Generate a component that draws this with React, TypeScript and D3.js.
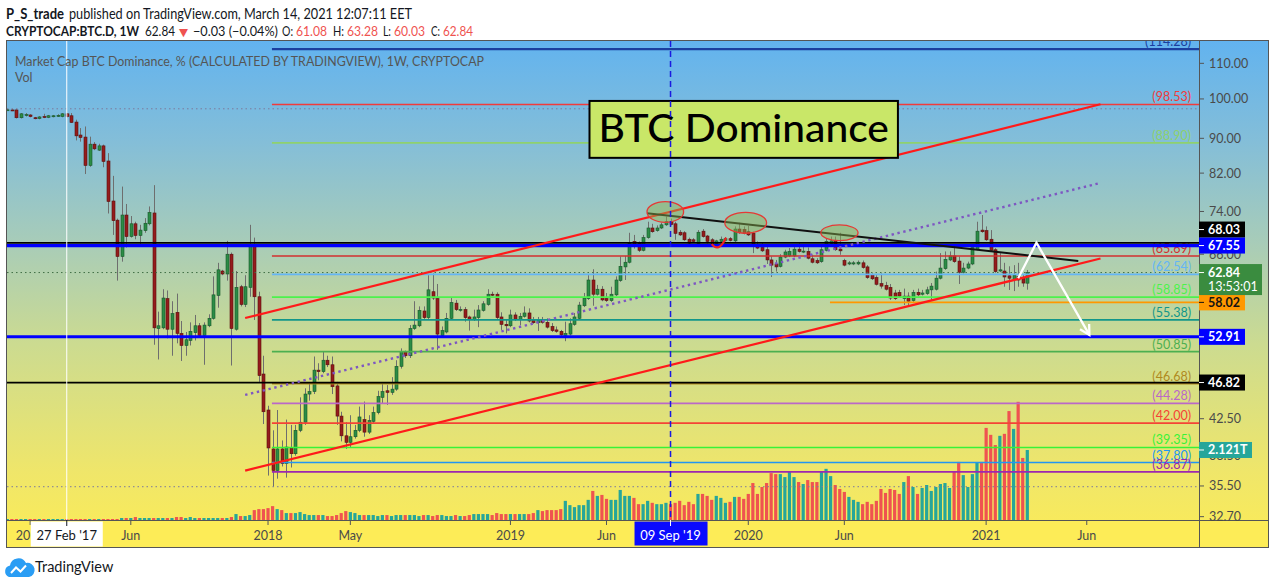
import React from "react";
import * as d3 from "d3";

// ---------- DATA (weekly candles, CRYPTOCAP:BTC.D) ----------
const FIRST_WEEK = "2016-11-28";

const OPEN = [
  97.1, 97.1, 97.1, 95.1, 95.7, 95.8, 95.1, 94.9, 95.4, 95.2,
  95.4, 95.5, 95.4, 96.1, 95.6, 94.0, 90.8, 90.3, 83.7, 88.6,
  87.2, 88.2, 84.7, 76.1, 72.3, 65.6, 73.3, 69.2, 71.6, 69.4,
  70.3, 71.6, 73.7, 54.1, 54.2, 58.6, 54.0, 56.5, 53.4, 51.7,
  52.4, 53.5, 54.5, 53.1, 54.5, 55.6, 59.1, 63.1, 62.6, 66.0,
  54.0, 60.5, 57.7, 60.4, 67.5, 58.9, 47.9, 43.5, 39.2, 37.0,
  39.2, 37.7, 39.3, 38.7, 41.2, 42.1, 45.4, 45.7, 48.4, 48.2,
  49.7, 49.1, 46.4, 42.8, 40.6, 39.9, 40.5, 41.2, 42.4, 41.0,
  42.2, 43.2, 45.0, 45.8, 45.6, 46.0, 48.9, 50.9, 50.3, 54.1,
  54.5, 56.7, 55.7, 59.7, 58.6, 53.1, 53.6, 55.6, 57.9, 56.9,
  56.9, 55.8, 55.4, 55.7, 56.8, 57.7, 59.3, 59.3, 55.8, 54.7,
  54.5, 56.1, 55.4, 55.9, 56.4, 55.3, 54.95, 55.3, 55.0, 54.4,
  53.9, 53.7, 53.1, 53.3, 54.7, 55.6, 57.5, 58.6, 61.6, 59.3,
  60.1, 58.6, 58.3, 59.2, 61.5, 63.8, 64.6, 68.3, 67.9, 66.7,
  69.0, 70.8, 70.3, 70.8, 71.4, 72.0, 71.6, 70.0, 69.9, 68.7,
  68.6, 67.9, 70.2, 69.3, 68.6, 67.9, 68.3, 68.5, 68.8, 68.4,
  70.6, 70.5, 70.1, 69.8, 67.7, 67.2, 66.8, 65.0, 64.3, 63.9,
  65.5, 65.7, 65.7, 66.9, 66.5, 66.5, 65.2, 64.9, 64.7, 66.7,
  67.9, 68.4, 66.9, 64.9, 64.3, 64.3, 64.3, 64.5, 63.8, 62.5,
  62.0, 61.0, 60.7, 60.4, 59.5, 59.6, 58.6, 59.0, 58.3, 59.6,
  59.3, 59.4, 60.0, 60.1, 61.9, 63.5, 65.0, 65.7, 64.8, 62.9,
  63.6, 64.3, 66.9, 70.4, 70.3, 68.7, 66.8, 63.1, 63.1, 62.3,
  61.7, 62.2, 61.9, 61.08,
];

const HIGH = [
  97.4, 97.3, 97.3, 96.3, 96.3, 96.0, 95.3, 95.5, 96.1, 95.8,
  95.8, 96.0, 96.3, 96.3, 96.3, 94.6, 92.5, 92.9, 90.4, 89.1,
  88.7, 88.5, 86.5, 81.4, 72.6, 79.1, 75.5, 73.1, 72.0, 71.4,
  72.7, 75.0, 79.4, 56.6, 60.1, 59.9, 58.2, 59.4, 55.2, 53.6,
  55.0, 56.1, 54.9, 55.0, 56.2, 62.2, 64.5, 63.3, 68.4, 66.3,
  63.1, 60.8, 62.4, 71.4, 69.0, 59.7, 50.3, 44.0, 41.2, 43.5,
  40.1, 42.4, 41.8, 41.8, 45.0, 46.1, 46.7, 50.2, 49.3, 50.9,
  50.3, 50.2, 46.9, 43.3, 42.1, 42.9, 41.8, 43.9, 44.5, 42.9,
  43.9, 45.8, 46.8, 46.5, 47.5, 49.7, 51.3, 51.0, 54.6, 58.2,
  57.4, 57.4, 62.4, 62.7, 60.95, 54.4, 56.4, 58.7, 58.4, 57.4,
  57.3, 56.0, 56.9, 57.6, 58.2, 60.1, 59.7, 59.6, 56.5, 55.35,
  56.9, 56.5, 56.4, 57.4, 57.1, 55.8, 55.8, 55.8, 55.6, 54.9,
  54.4, 53.9, 55.1, 55.6, 56.4, 58.1, 59.5, 62.4, 63.4, 60.8,
  60.6, 59.5, 60.5, 62.2, 65.6, 65.7, 69.9, 69.5, 68.3, 69.5,
  72.0, 71.6, 71.3, 71.8, 73.0, 72.6, 72.0, 70.4, 70.2, 69.0,
  68.9, 70.4, 70.6, 69.5, 68.9, 68.6, 69.2, 69.1, 69.1, 71.1,
  71.8, 71.1, 71.2, 70.1, 68.3, 68.0, 67.4, 65.6, 65.0, 66.0,
  66.8, 67.1, 67.7, 68.0, 67.4, 67.2, 65.9, 65.3, 67.4, 68.8,
  69.2, 69.2, 69.9, 65.2, 64.8, 64.8, 64.9, 64.9, 64.1, 62.7,
  62.4, 62.7, 61.3, 60.95, 60.0, 60.0, 60.2, 59.6, 60.0, 60.2,
  60.0, 60.5, 61.1, 63.0, 66.2, 66.5, 66.5, 67.4, 65.6, 64.5,
  64.7, 67.65, 72.0, 73.3, 71.1, 70.4, 67.1, 66.2, 64.5, 63.9,
  64.1, 64.5, 62.4, 63.28,
];

const LOW = [
  97.0, 96.8, 94.9, 94.9, 95.4, 95.2, 94.7, 94.7, 95.0, 95.0,
  95.2, 95.3, 95.2, 95.2, 93.8, 89.5, 89.2, 81.8, 83.4, 87.2,
  87.0, 83.3, 73.6, 69.5, 61.5, 64.7, 67.2, 69.0, 68.7, 67.3,
  69.9, 71.3, 51.8, 49.8, 54.0, 52.7, 50.3, 52.0, 49.6, 50.3,
  51.7, 52.4, 53.0, 49.1, 54.3, 55.4, 57.2, 62.4, 61.5, 49.0,
  53.8, 57.4, 57.3, 58.9, 55.35, 46.9, 41.9, 36.5, 35.43, 36.2,
  37.4, 36.3, 37.3, 38.5, 41.0, 41.8, 44.6, 45.4, 47.1, 48.0,
  48.8, 45.4, 41.8, 40.0, 39.2, 39.4, 40.3, 41.0, 40.5, 40.8,
  42.0, 43.0, 44.3, 44.1, 45.3, 45.8, 48.6, 50.0, 50.0, 53.9,
  54.3, 55.5, 55.5, 58.4, 51.1, 52.9, 53.4, 55.4, 56.7, 56.6,
  55.1, 53.8, 55.2, 54.3, 56.6, 57.5, 59.0, 55.5, 53.9, 53.4,
  54.3, 55.2, 54.6, 55.7, 55.0, 54.8, 53.75, 54.8, 54.1, 53.6,
  53.5, 53.0, 52.3, 53.1, 54.5, 55.4, 57.3, 58.4, 57.5, 59.1,
  58.2, 58.1, 58.1, 59.0, 61.3, 61.6, 64.4, 67.0, 66.4, 66.5,
  68.8, 69.9, 70.1, 70.6, 71.2, 71.3, 68.6, 69.3, 68.4, 67.8,
  68.1, 67.7, 69.0, 67.9, 67.7, 67.7, 68.1, 68.3, 68.3, 68.2,
  69.7, 69.6, 69.3, 66.2, 66.9, 66.4, 64.3, 62.1, 63.0, 63.7,
  65.3, 65.5, 65.5, 66.3, 66.2, 65.1, 64.4, 64.3, 64.5, 66.5,
  67.7, 66.6, 65.9, 63.9, 64.1, 64.1, 64.1, 63.5, 61.8, 61.6,
  60.7, 60.2, 59.9, 58.4, 58.4, 58.8, 57.6, 57.6, 58.1, 59.0,
  59.1, 59.2, 58.4, 59.9, 61.7, 63.3, 64.8, 64.5, 60.95, 62.7,
  63.4, 64.1, 66.7, 69.9, 68.4, 66.5, 62.8, 62.9, 60.5, 59.98,
  59.8, 60.5, 60.5, 60.03,
];

const CLOSE = [
  97.15, 96.9, 95.1, 96.1, 95.9, 95.4, 94.9, 95.3, 95.2, 95.6,
  95.6, 95.7, 96.1, 95.4, 93.9, 90.6, 90.2, 83.7, 88.6, 87.5,
  88.2, 84.6, 76.0, 72.2, 65.6, 73.3, 69.2, 71.6, 69.4, 70.4,
  71.7, 73.8, 54.2, 54.5, 58.7, 54.0, 56.3, 53.4, 51.7, 52.5,
  53.7, 54.5, 53.1, 54.6, 55.6, 59.2, 63.3, 62.6, 66.0, 54.1,
  60.4, 57.7, 60.5, 67.5, 58.9, 47.7, 43.3, 39.3, 37.0, 39.2,
  37.7, 39.4, 38.7, 41.2, 42.1, 45.4, 45.7, 48.4, 48.2, 49.7,
  49.1, 46.3, 42.8, 40.6, 39.9, 40.5, 41.2, 42.7, 41.0, 42.3,
  43.2, 45.1, 45.7, 45.6, 46.0, 48.9, 50.9, 50.3, 54.1, 54.6,
  56.8, 55.7, 60.0, 58.7, 53.3, 53.8, 55.6, 58.0, 56.9, 56.95,
  55.7, 55.4, 55.8, 56.85, 57.8, 59.3, 59.2, 55.7, 54.7, 54.5,
  56.1, 55.4, 55.9, 56.4, 55.2, 54.95, 55.3, 55.0, 54.3, 53.8,
  53.7, 53.2, 53.4, 54.8, 55.8, 57.6, 58.7, 61.6, 59.3, 60.1,
  58.4, 58.3, 59.3, 61.6, 63.9, 64.6, 68.0, 67.5, 66.7, 69.0,
  70.8, 70.1, 70.8, 71.4, 72.0, 71.5, 69.8, 69.5, 68.6, 68.0,
  68.3, 70.0, 69.2, 68.3, 67.9, 68.4, 68.7, 68.8, 68.5, 70.6,
  69.9, 69.8, 69.5, 67.5, 67.1, 66.6, 65.0, 64.1, 63.8, 65.5,
  66.4, 66.5, 66.9, 66.5, 66.55, 65.3, 64.6, 64.5, 66.8, 68.3,
  68.4, 66.8, 66.6, 64.1, 64.5, 64.5, 64.6, 63.7, 62.0, 61.8,
  60.9, 60.6, 60.1, 58.7, 58.6, 59.0, 59.0, 58.2, 59.6, 59.2,
  59.5, 60.0, 60.6, 61.9, 63.6, 65.1, 65.7, 64.7, 62.9, 63.6,
  64.3, 67.2, 70.2, 70.1, 68.6, 66.7, 63.0, 63.3, 62.1, 61.9,
  62.4, 61.6, 61.1, 62.84,
];

// Volume, in trillions (T)
const VOLUME_T = [
  0.03, 0.03, 0.03, 0.03, 0.03, 0.03, 0.03, 0.03, 0.03, 0.03,
  0.03, 0.03, 0.03, 0.03, 0.03, 0.03, 0.03, 0.03, 0.03, 0.03,
  0.03, 0.03, 0.03, 0.03, 0.03, 0.06, 0.06, 0.06, 0.09, 0.06,
  0.06, 0.06, 0.06, 0.06, 0.06, 0.06, 0.06, 0.09, 0.09, 0.06,
  0.09, 0.06, 0.06, 0.06, 0.06, 0.06, 0.06, 0.06, 0.06, 0.09,
  0.18, 0.12, 0.12, 0.15, 0.30, 0.33, 0.33, 0.36, 0.42, 0.33,
  0.30, 0.21, 0.21, 0.21, 0.24, 0.18, 0.15, 0.15, 0.15, 0.15,
  0.12, 0.12, 0.15, 0.21, 0.27, 0.24, 0.21, 0.15, 0.15, 0.15,
  0.15, 0.12, 0.15, 0.15, 0.12, 0.15, 0.15, 0.15, 0.15, 0.15,
  0.12, 0.15, 0.15, 0.12, 0.15, 0.15, 0.12, 0.12, 0.15, 0.12,
  0.12, 0.15, 0.18, 0.18, 0.18, 0.18, 0.15, 0.21, 0.18, 0.18,
  0.18, 0.18, 0.18, 0.18, 0.18, 0.21, 0.30, 0.27, 0.30, 0.30,
  0.30, 0.33, 0.58, 0.45, 0.39, 0.45, 0.45, 0.61, 0.88, 0.73,
  0.76, 0.64, 0.61, 0.61, 0.91, 0.73, 0.73, 0.67, 0.48, 0.48,
  0.58, 0.52, 0.48, 0.48, 0.52, 0.48, 0.52, 0.58, 0.45, 0.55,
  0.48, 0.79, 0.79, 0.73, 0.61, 0.73, 0.67, 0.52, 0.55, 0.70,
  0.70, 0.64, 0.79, 1.12, 0.79, 1.00, 1.12, 1.42, 1.39, 1.39,
  1.30, 1.48, 1.30, 1.15, 1.09, 1.21, 1.15, 1.15, 1.48, 1.55,
  1.33, 1.06, 0.94, 0.85, 0.70, 0.61, 0.55, 0.48, 0.55, 0.48,
  0.58, 0.94, 0.82, 0.94, 0.91, 0.79, 1.15, 1.33, 1.00, 0.79,
  0.97, 1.06, 0.88, 1.00, 1.09, 1.12, 0.97, 1.48, 1.76, 1.36,
  1.00, 1.39, 1.73, 1.76, 2.79, 2.58, 2.27, 2.55, 2.61, 3.30,
  2.76, 3.58, 1.88, 2.121,
];

const X_TICKS = [
  { date: "2017-01-02", label: "2017" },
  { date: "2017-06-05", label: "Jun" },
  { date: "2018-01-01", label: "2018" },
  { date: "2018-05-07", label: "May" },
  { date: "2019-01-07", label: "2019" },
  { date: "2019-06-03", label: "Jun" },
  { date: "2020-01-06", label: "2020" },
  { date: "2020-06-01", label: "Jun" },
  { date: "2021-01-04", label: "2021" },
  { date: "2021-06-07", label: "Jun" },
];
const CROSSHAIR = { date: "2017-02-27", label: "27 Feb '17" };
const MARKER_DATE = { date: "2019-09-09", label: "09 Sep '19" };

// visible price-axis ticks (66.00 and 38.50 sit partly under label boxes, as in the reference)
const PRICE_TICKS = [110, 100, 90, 82, 74, 66, 42.5, 38.5, 35.5, 32.7];

const LEVELS_START = "2018-01-07";
const LEVELS = [
  { value: 114.28, color: "#1b3f9f" },
  { value: 98.53, color: "#f23a3a" },
  { value: 88.9, color: "#8fd16e" },
  { value: 65.69, color: "#d32f2f" },
  { value: 62.54, color: "#64b5f6" },
  { value: 58.85, color: "#4cf24c" },
  { value: 55.38, color: "#12968a" },
  { value: 50.85, color: "#4caf50" },
  { value: 46.68, color: "#b08a1e" },
  { value: 44.28, color: "#ba68c8" },
  { value: 42.0, color: "#f44336" },
  { value: 39.35, color: "#38f238" },
  { value: 37.8, color: "#2196f3" },
  { value: 36.87, color: "#9c27b0" },
];
const FULL_LINES = [
  { value: 68.03, color: "#000000", w: 1.8 },
  { value: 67.55, color: "#0000ff", w: 3.2 },
  { value: 52.91, color: "#0000ff", w: 3 },
  { value: 46.82, color: "#000000", w: 1.8 },
];
const ORANGE_RAY = { value: 58.02, start: "2020-05-10", color: "#ff9800" };

const CHANNEL_UPPER: [string, number][] = [["2017-11-27", 55.65], ["2021-06-28", 98.6]];
const CHANNEL_LOWER: [string, number][] = [["2017-11-27", 36.99], ["2021-06-28", 65.24]];
const MID_DOTTED: [string, number][] = [["2017-11-27", 45.29], ["2021-06-28", 79.87]];
const BLACK_TREND: [string, number][] = [["2019-08-04", 73.65], ["2021-05-25", 64.82]];
const WHITE_ARROW: [string, number][] = [["2021-02-22", 61.89], ["2021-03-22", 68.08], ["2021-06-11", 53.18]];
const ELLIPSES = [
  { d1: "2019-08-04", d2: "2019-09-29", v1: 75.97, v2: 71.89 },
  { d1: "2019-12-01", d2: "2020-02-03", v1: 73.84, v2: 69.81 },
  { d1: "2020-04-26", d2: "2020-06-22", v1: 71.38, v2: 68.44 },
];
const ARC: [string, number][] = [["2019-11-11", 67.8], ["2019-11-22", 66.2], ["2019-12-03", 69.0]];
const TITLE_BOX = { d1: "2019-05-08", d2: "2020-08-22", v1: 99.47, v2: 85.42, text: "BTC Dominance" };

const AXIS_LABELS = [
  { value: 68.03, bg: "#000000", fg: "#ffffff" },
  { value: 67.55, bg: "#0000ff", fg: "#ffffff" },
  { value: 58.02, bg: "#ff9800", fg: "#131313" },
  { value: 52.91, bg: "#0000ff", fg: "#ffffff" },
  { value: 46.82, bg: "#000000", fg: "#ffffff" },
];
const COUNTDOWN = "13:53:01";
const CHANGE_TEXT = "−0.03 (−0.04%)";

const pd = (s: string) => new Date(s + "T00:00:00Z");
const FONT = "Lato, 'Open Sans', 'DejaVu Sans', sans-serif";

export default function App() {
  const L = 7, R = 1199, T = 41, B = 520, AB = 547, RR = 1268;
  const start = pd(FIRST_WEEK);
  const n = CLOSE.length;
  const last = d3.utcDay.offset(start, (n - 1) * 7);
  const x = d3.scaleUtc().domain([start, last]).range([7.3, 1027.3]);
  const y = d3.scaleLog().domain([32.41, 116.15]).range([520, 43]);
  const yVol = d3.scaleLinear().domain([0, 14.45]).range([520, 43]);
  const dates = CLOSE.map((_, i) => d3.utcDay.offset(start, i * 7));
  const line = d3.line<[string, number]>().x((d) => x(pd(d[0]))).y((d) => y(d[1]));
  const f2 = d3.format(".2f");

  const up = (i: number) => CLOSE[i] >= OPEN[i];
  const maxHigh = d3.max(HIGH) as number;
  const minLow = d3.min(LOW) as number;
  const lastClose = CLOSE[n - 1];
  const lastVol = VOLUME_T[n - 1];

  type Box = { cy: number; h: number; bg: string; fg: string; text: string; w: number };
  const boxes: Box[] = AXIS_LABELS.map((a) => ({ cy: y(a.value), h: 16, bg: a.bg, fg: a.fg, text: f2(a.value), w: 46 }));
  boxes.sort((a, b) => a.cy - b.cy);
  for (let i = boxes.length - 2; i >= 0; i--) {
    const lower = boxes[i + 1];
    const cur = boxes[i];
    if (cur.cy + cur.h / 2 > lower.cy - lower.h / 2) cur.cy = lower.cy - lower.h / 2 - cur.h / 2;
  }

  const aPts = WHITE_ARROW.map((d) => [x(pd(d[0])), y(d[1])]);
  const [ax1, ay1] = aPts[aPts.length - 2];
  const [ax2, ay2] = aPts[aPts.length - 1];
  const ang = Math.atan2(ay2 - ay1, ax2 - ax1);
  const hl = 11;
  const head = [
    [ax2 - hl * Math.cos(ang - 0.5), ay2 - hl * Math.sin(ang - 0.5)],
    [ax2, ay2],
    [ax2 - hl * Math.cos(ang + 0.5), ay2 - hl * Math.sin(ang + 0.5)],
  ];

  const arcPts = ARC.map((d) => [x(pd(d[0])), y(d[1])]);
  const tb = {
    x1: x(pd(TITLE_BOX.d1)), x2: x(pd(TITLE_BOX.d2)),
    y1: y(TITLE_BOX.v1), y2: y(TITLE_BOX.v2),
  };
  const levelX0 = x(pd(LEVELS_START));
  const crossX = x(pd(CROSSHAIR.date));
  const markX = x(pd(MARKER_DATE.date));
  const red = "#ef5350";
  const dark = "#131722";

  // header line 2 segments: [text, x-start, width, colour, bold]
  const header2: [string, number, number, string, boolean][] = [
    ["CRYPTOCAP:BTC.D, 1W", 6, 133, dark, true],
    [f2(lastClose), 145, 30, dark, false],
    ["▼", 179, 9, red, false],
    [CHANGE_TEXT, 193, 85, dark, false],
    ["O:", 282, 11, dark, false],
    [f2(OPEN[n - 1]), 296, 31, red, false],
    ["H:", 333, 11, dark, false],
    [f2(HIGH[n - 1]), 347, 31, red, false],
    ["L:", 383, 8, dark, false],
    [f2(LOW[n - 1]), 394, 31, red, false],
    ["C:", 431, 9, dark, false],
    [f2(lastClose), 443, 30, red, false],
  ];

  return (
    <svg width={1274} height={585} style={{ position: "absolute", left: 0, top: 0, background: "#fff" }} fontFamily={FONT}>
      <defs>
        <linearGradient id="bg" x1="0" y1={T} x2="0" y2={AB} gradientUnits="userSpaceOnUse">
          <stop offset="0" stopColor="#62b3ef" />
          <stop offset="0.2" stopColor="#84bed8" />
          <stop offset="0.4" stopColor="#a8ccb8" />
          <stop offset="0.6" stopColor="#ccdb90" />
          <stop offset="0.85" stopColor="#efe66a" />
          <stop offset="1" stopColor="#fcec56" />
        </linearGradient>
        <clipPath id="plot">
          <rect x={L} y={T} width={R - L} height={B - T} />
        </clipPath>
      </defs>

      <rect x={L} y={T} width={RR - L} height={AB - T} fill="url(#bg)" />
      <rect x={L} y={B} width={RR - L} height={AB - B} fill="#fdec57" />

      <g clipPath="url(#plot)">
        {VOLUME_T.map((v, i) => (
          <rect key={"v" + i} x={x(dates[i]) - 1.6} y={yVol(v)} width={3.2} height={B - yVol(v)}
            fill={up(i) ? "#26a69a" : red} />
        ))}
        {CLOSE.map((c, i) => {
          const cx = Math.round(x(dates[i])) + 0.5;
          const o = OPEN[i];
          const top = y(Math.max(o, c));
          const bot = y(Math.min(o, c));
          const g = up(i);
          return (
            <g key={"c" + i}>
              <line x1={cx} x2={cx} y1={y(HIGH[i])} y2={y(LOW[i])} stroke="#6e6e6e" strokeWidth={1} />
              <rect x={cx - 1.5} y={top} width={3} height={Math.max(1, bot - top)}
                fill={g ? "#2c8c46" : "#941c1c"} stroke={g ? "#17572a" : "#5a0e0e"} strokeWidth={0.6} />
            </g>
          );
        })}

        <line x1={L} x2={R} y1={y(maxHigh)} y2={y(maxHigh)} stroke="#7d7a9c" strokeWidth={1} strokeDasharray="1.5 3" />
        <line x1={L} x2={R} y1={y(minLow)} y2={y(minLow)} stroke="#7d7a9c" strokeWidth={1} strokeDasharray="1.5 3" />
        <line x1={L} x2={R} y1={y(lastClose)} y2={y(lastClose)} stroke="#3f6e45" strokeWidth={1} strokeDasharray="1.5 3" />

        {LEVELS.map((lv) => (
          <g key={"lv" + lv.value}>
            <line x1={levelX0} x2={R} y1={y(lv.value)} y2={y(lv.value)} stroke={lv.color}
              strokeWidth={lv.value > 110 ? 2.2 : 1.7} />
            <text x={1191} y={y(lv.value) - 3} textAnchor="end" fontSize={12.5} fill={lv.color}>
              ({f2(lv.value)})
            </text>
          </g>
        ))}
        <line x1={x(pd(ORANGE_RAY.start))} x2={R} y1={y(ORANGE_RAY.value)} y2={y(ORANGE_RAY.value)}
          stroke={ORANGE_RAY.color} strokeWidth={1.8} />

        {FULL_LINES.map((fl) => (
          <line key={"fl" + fl.value} x1={L} x2={R} y1={y(fl.value)} y2={y(fl.value)} stroke={fl.color} strokeWidth={fl.w} />
        ))}

        <path d={line(MID_DOTTED) || ""} stroke="#7e57c2" strokeWidth={2.4} strokeDasharray="2.4 3.6" fill="none" />
        <path d={line(CHANNEL_UPPER) || ""} stroke="#ff1a1a" strokeWidth={2.2} fill="none" />
        <path d={line(CHANNEL_LOWER) || ""} stroke="#ff1a1a" strokeWidth={2.2} fill="none" />
        <path d={line(BLACK_TREND) || ""} stroke="#111111" strokeWidth={2} fill="none" />

        {ELLIPSES.map((e, i) => {
          const x1 = x(pd(e.d1)), x2 = x(pd(e.d2)), y1 = y(e.v1), y2 = y(e.v2);
          return (
            <ellipse key={"e" + i} cx={(x1 + x2) / 2} cy={(y1 + y2) / 2} rx={(x2 - x1) / 2} ry={(y2 - y1) / 2}
              fill="rgba(139,178,80,0.45)" stroke="#e53935" strokeWidth={1.3} />
          );
        })}
        <path d={`M${arcPts[0][0]},${arcPts[0][1]} Q${arcPts[1][0]},${arcPts[1][1]} ${arcPts[2][0]},${arcPts[2][1]}`}
          stroke="#f02020" strokeWidth={2.2} fill="none" />

        <rect x={tb.x1} y={tb.y1} width={tb.x2 - tb.x1} height={tb.y2 - tb.y1} fill="#c9e768" stroke="#000" strokeWidth={2} />
        <text x={tb.x1 + 9} y={(tb.y1 + tb.y2) / 2 + 13} fontSize={38} fill="#000" fontWeight={500}
          textLength={tb.x2 - tb.x1 - 18} lengthAdjust="spacingAndGlyphs">{TITLE_BOX.text}</text>

        <polyline points={aPts.map((p) => p.join(",")).join(" ")} stroke="#ffffff" strokeWidth={2.3} fill="none" />
        <polyline points={head.map((p) => p.join(",")).join(" ")} stroke="#ffffff" strokeWidth={2.3} fill="none" />

        <line x1={markX} x2={markX} y1={T} y2={B} stroke="#1a1ae0" strokeWidth={1.5} strokeDasharray="6 4" />
        <line x1={crossX} x2={crossX} y1={T} y2={B} stroke="#ffffff" strokeWidth={1} />
      </g>

      <line x1={R + 0.5} x2={R + 0.5} y1={T} y2={AB} stroke="#555" strokeWidth={1} />
      <line x1={L} x2={RR} y1={B + 0.5} y2={B + 0.5} stroke="#555" strokeWidth={1} />
      <rect x={L - 0.5} y={T - 0.5} width={RR - L + 1} height={AB - T + 1} fill="none" stroke="#555" strokeWidth={1} />

      {PRICE_TICKS.map((p) => (
        <g key={"pt" + p}>
          <line x1={R} x2={R + 5} y1={y(p)} y2={y(p)} stroke="#555" />
          <text x={1209} y={y(p) + 4.5} fontSize={12.5} fill="#4a4a4a">{f2(p)}</text>
        </g>
      ))}

      {boxes.map((b) => (
        <g key={"bx" + b.text}>
          <rect x={R} y={b.cy - b.h / 2} width={b.w} height={b.h} fill={b.bg} />
          <line x1={R} x2={R + 5} y1={b.cy} y2={b.cy} stroke={b.fg} />
          <text x={1208} y={b.cy + 4.5} fontSize={12.5} fontWeight="bold" fill={b.fg}>{b.text}</text>
        </g>
      ))}
      <g>
        <rect x={R} y={y(lastClose) - 8.5} width={63} height={31} fill="#3a8c3f" />
        <line x1={R} x2={R + 5} y1={y(lastClose)} y2={y(lastClose)} stroke="#fff" />
        <text x={1208} y={y(lastClose) + 4.5} fontSize={12.5} fontWeight="bold" fill="#fff">{f2(lastClose)}</text>
        <text x={1208} y={y(lastClose) + 18} fontSize={12.5} fill="#fff">{COUNTDOWN}</text>
      </g>
      <g>
        <rect x={R} y={yVol(lastVol) - 8} width={53} height={16} fill="#26a69a" />
        <line x1={R} x2={R + 5} y1={yVol(lastVol)} y2={yVol(lastVol)} stroke="#fff" />
        <text x={1208} y={yVol(lastVol) + 4.5} fontSize={12.5} fontWeight="bold" fill="#fff">{d3.format(".3f")(lastVol)}T</text>
      </g>

      {X_TICKS.map((t) => {
        const tx = x(pd(t.date));
        return (
          <g key={"xt" + t.date}>
            <line x1={tx} x2={tx} y1={B} y2={B + 5} stroke="#555" />
            <text x={tx} y={539.5} textAnchor="middle" fontSize={12.5} fill="#4a4a4a">{t.label}</text>
          </g>
        );
      })}
      <rect x={crossX - 36} y={B + 1.5} width={72} height={AB - B - 2} fill="#ffffff" />
      <line x1={crossX} x2={crossX} y1={B} y2={B + 6} stroke="#131722" />
      <text x={crossX} y={539.5} textAnchor="middle" fontSize={13} fill={dark}>{CROSSHAIR.label}</text>
      <rect x={markX - 36} y={B + 1.5} width={73} height={AB - B - 3} fill="#0a0aff" />
      <line x1={markX} x2={markX} y1={B} y2={B + 6} stroke="#fff" />
      <text x={markX} y={539.5} textAnchor="middle" fontSize={13} fill="#fff">{MARKER_DATE.label}</text>

      <text x={15} y={66} fontSize={13.5} fill="#555" textLength={469} lengthAdjust="spacingAndGlyphs">
        Market Cap BTC Dominance, % (CALCULATED BY TRADINGVIEW), 1W, CRYPTOCAP
      </text>
      <text x={15} y={81.5} fontSize={12.5} fill="#555">Vol</text>

      {/* header */}
      <text x={6} y={19} fontSize={14.5} fill={dark} fontWeight="bold" textLength={58} lengthAdjust="spacingAndGlyphs">P_S_trade</text>
      <text x={69} y={19} fontSize={14.5} fill={dark} textLength={343} lengthAdjust="spacingAndGlyphs">
        published on TradingView.com, March 14, 2021 12:07:11 EET
      </text>
      {header2.map(([s, hx, w, col, bold], k) => (
        <text key={"h2" + k} x={hx} y={36} fontSize={s === "▼" ? 11 : 14} fill={col} fontWeight={bold ? "bold" : "normal"}
          textLength={w} lengthAdjust="spacingAndGlyphs">{s}</text>
      ))}

      <g>
        <path d="M9,577 a6,6 0 0 1 1,-11.5 a8.5,8.5 0 0 1 16,-2.5 a6.5,6.5 0 0 1 3,14 z" fill="#2a9df4" />
        <polyline points="11,573 16,567.5 20.5,571.5 26,565.5" stroke="#fff" strokeWidth={2} fill="none" />
        <text x={35} y={571.5} fontSize={14.5} fill={dark}>TradingView</text>
      </g>
    </svg>
  );
}
